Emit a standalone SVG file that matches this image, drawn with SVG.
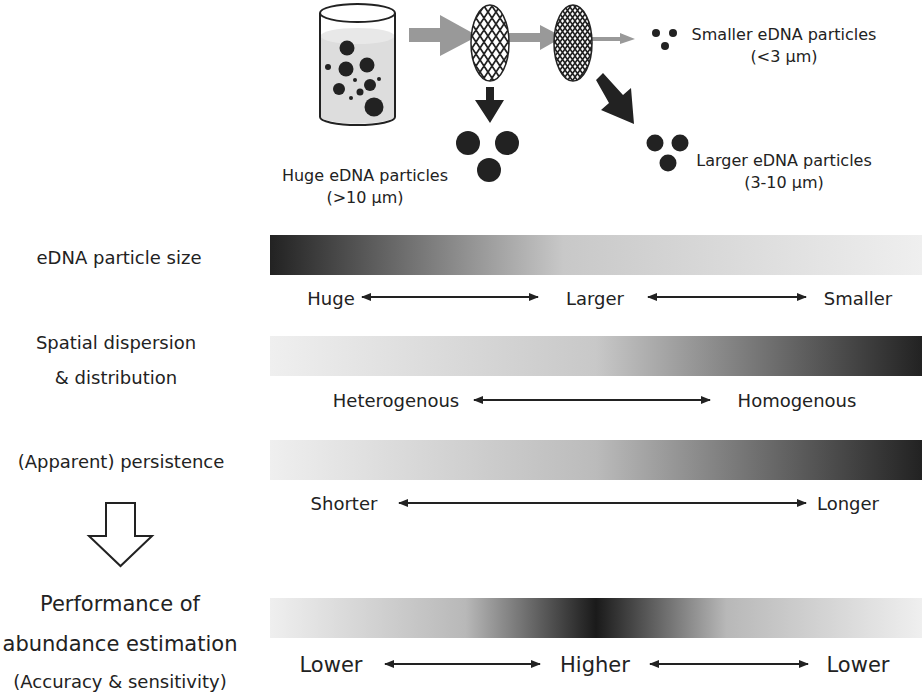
<svg xmlns="http://www.w3.org/2000/svg" width="922" height="692" viewBox="0 0 922 692">
<style>
text{font-family:"DejaVu Sans","Verdana",sans-serif;fill:#222;}
.t{font-size:16px}
.l{font-size:18px}
.b{font-size:21px}
.dot{fill:#222}
.da{stroke:#222;stroke-width:2;fill:none;marker-start:url(#ah);marker-end:url(#ah)}
</style>
<defs>
<marker id="ah" viewBox="0 0 10 10" refX="9" refY="5" markerWidth="5" markerHeight="5" orient="auto-start-reverse"><path d="M0,1 L10,5 L0,9 z" fill="#222"/></marker>
<pattern id="h1" width="8" height="12" patternUnits="userSpaceOnUse"><rect width="8" height="12" fill="#fff"/><path d="M0,0 L8,12 M8,0 L0,12 M-4,6 L0,12 M4,-6 L12,6 M-4,6 L4,-6 M4,18 L12,6" stroke="#222" stroke-width="1.8"/></pattern>
<pattern id="h2" width="5" height="7" patternUnits="userSpaceOnUse"><rect width="5" height="7" fill="#fff"/><path d="M0,0 L5,7 M5,0 L0,7" stroke="#222" stroke-width="1.6"/></pattern>
<linearGradient id="g1"><stop offset="0" stop-color="#222"/><stop offset="0.45" stop-color="#c8c8c8"/><stop offset="1" stop-color="#efefef"/></linearGradient>
<linearGradient id="g2"><stop offset="0" stop-color="#efefef"/><stop offset="0.5" stop-color="#c8c8c8"/><stop offset="1" stop-color="#222"/></linearGradient>
<linearGradient id="g3"><stop offset="0" stop-color="#efefef"/><stop offset="0.5" stop-color="#bbb"/><stop offset="1" stop-color="#222"/></linearGradient>
<linearGradient id="g4"><stop offset="0" stop-color="#efefef"/><stop offset="0.3" stop-color="#b8b8b8"/><stop offset="0.5" stop-color="#1a1a1a"/><stop offset="0.7" stop-color="#b8b8b8"/><stop offset="1" stop-color="#efefef"/></linearGradient>
</defs>

<g id="beaker">
<path d="M321,36 A37,8 0 0 1 394,36 L394,117 A37,8 0 0 1 321,117 z" fill="#ddd"/>
<ellipse cx="357.5" cy="36" rx="37" ry="8" fill="#e8e8e8"/>
<path d="M320,13 L320,117 A37.5,8 0 0 0 395,117 L395,13" fill="none" stroke="#222" stroke-width="2"/>
<ellipse cx="357.5" cy="13" rx="37.5" ry="9" fill="#fff" stroke="#222" stroke-width="2"/>
<g class="dot">
<circle cx="347" cy="48" r="7.5"/><circle cx="328" cy="67" r="3"/><circle cx="346" cy="69" r="7.5"/><circle cx="367" cy="65" r="7.5"/>
<circle cx="355" cy="80" r="2"/><circle cx="379" cy="79" r="2"/><circle cx="370" cy="85" r="6"/><circle cx="339" cy="89" r="6"/>
<circle cx="360" cy="92" r="3.5"/><circle cx="351" cy="98" r="2"/><circle cx="374" cy="107" r="9.5"/>
</g>
</g>

<g id="connectors">
<path d="M409,28 L440,28 L440,15 L478,36 L440,56 L440,42 L409,42 z" fill="#999"/>
<path d="M509,33 L540,33 L540,25 L563,37 L540,50 L540,42 L509,42 z" fill="#999"/>
<path d="M592,37 L620,37 L620,33 L635,39 L620,44 L620,41 L592,41 z" fill="#999"/>
<path d="M486,87 L494,87 L494,100 L504,100 L490,123 L475,100 L486,100 z" fill="#222"/>
<path d="M596,80 L603,73 L623,95 L631,88 L634,124 L601,110 L609,103 z" fill="#222"/>
<path d="M106,503 L135,503 L135,536 L152,536 L120.5,566 L89,536 L106,536 z" fill="#fff" stroke="#222" stroke-width="2"/>
<path class="da" d="M362,297 L538,297"/>
<path class="da" d="M648,297 L806,297"/>
<path class="da" d="M474,400 L710,400"/>
<path class="da" d="M399,503 L806,503"/>
<path class="da" d="M385,664 L540,664"/>
<path class="da" d="M650,664 L808,664"/>
</g>

<g id="filter1"><ellipse cx="490" cy="43" rx="19" ry="38" fill="url(#h1)" stroke="#222" stroke-width="1.5"/></g>
<g id="filter2"><ellipse cx="573" cy="43" rx="19" ry="38" fill="url(#h2)" stroke="#222" stroke-width="1.5"/></g>

<g id="small" class="dot"><circle cx="656" cy="33" r="4"/><circle cx="673" cy="33" r="4"/><circle cx="665" cy="46" r="4"/>
<text class="t" x="784" y="40" text-anchor="middle">Smaller eDNA particles</text><text class="t" x="784" y="62" text-anchor="middle">(&lt;3 μm)</text></g>
<g id="huge" class="dot"><circle cx="468" cy="143" r="12"/><circle cx="507" cy="143" r="12"/><circle cx="489" cy="170" r="12"/>
<text class="t" x="365" y="181" text-anchor="middle">Huge eDNA particles</text><text class="t" x="365" y="203" text-anchor="middle">(&gt;10 μm)</text></g>
<g id="larger" class="dot"><circle cx="655" cy="143" r="8.5"/><circle cx="680" cy="143" r="8.5"/><circle cx="668" cy="163" r="8.5"/>
<text class="t" x="784" y="166" text-anchor="middle">Larger eDNA particles</text><text class="t" x="784" y="188" text-anchor="middle">(3-10 μm)</text></g>

<g id="row1">
<text class="l" x="119" y="264" text-anchor="middle">eDNA particle size</text>
<rect x="270" y="235" width="652" height="40" fill="url(#g1)"/>
<text class="l" x="331" y="305" text-anchor="middle">Huge</text>
<text class="l" x="595" y="305" text-anchor="middle">Larger</text>
<text class="l" x="858" y="305" text-anchor="middle">Smaller</text>
</g>
<g id="row2">
<text class="l" x="116" y="349" text-anchor="middle">Spatial dispersion</text>
<text class="l" x="116" y="384" text-anchor="middle">&amp; distribution</text>
<rect x="270" y="336" width="652" height="40" fill="url(#g2)"/>
<text class="l" x="396" y="407" text-anchor="middle">Heterogenous</text>
<text class="l" x="797" y="407" text-anchor="middle">Homogenous</text>
</g>
<g id="row3">
<text class="l" x="121" y="468" text-anchor="middle">(Apparent) persistence</text>
<rect x="270" y="440" width="652" height="40" fill="url(#g3)"/>
<text class="l" x="344" y="510" text-anchor="middle">Shorter</text>
<text class="l" x="848" y="510" text-anchor="middle">Longer</text>
</g>
<g id="row4">
<text class="b" x="120" y="611" text-anchor="middle">Performance of</text>
<text class="b" x="120" y="651" text-anchor="middle">abundance estimation</text>
<text class="l" x="120" y="688" text-anchor="middle">(Accuracy &amp; sensitivity)</text>
<rect x="270" y="598" width="652" height="40" fill="url(#g4)"/>
<text class="b" x="331" y="672" text-anchor="middle">Lower</text>
<text class="b" x="595" y="672" text-anchor="middle">Higher</text>
<text class="b" x="858" y="672" text-anchor="middle">Lower</text>
</g>
</svg>
